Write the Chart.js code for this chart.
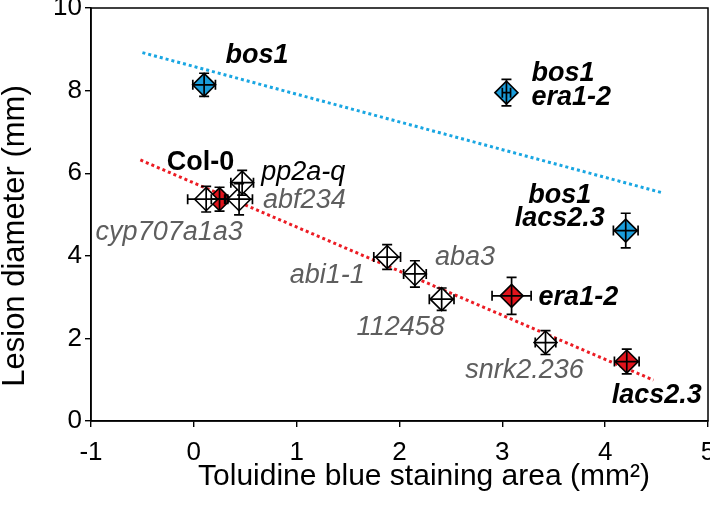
<!DOCTYPE html>
<html><head><meta charset="utf-8">
<script src="https://cdn.jsdelivr.net/npm/chart.js@4/dist/chart.umd.min.js"></script>
<style>html,body{margin:0;padding:0;background:#fff}#wrap{width:710px;height:507px;position:relative}</style>
</head><body><div id="wrap"><canvas id="c"></canvas></div>
<script>
// ---- data ----
const genotypes  = ['bos1','bos1\nera1-2','bos1\nlacs2.3','Col-0','cyp707a1a3','abf234','pp2a-q','abi1-1','aba3','112458','era1-2','snrk2.236','lacs2.3'];
const stainArea  = [0.10, 3.04, 4.20, 0.25, 0.12, 0.44, 0.47, 1.88, 2.15, 2.41, 3.09, 3.42, 4.21];
const stainErr   = [0.11, 0.04, 0.12, 0.08, 0.18, 0.13, 0.11, 0.13, 0.11, 0.12, 0.19, 0.10, 0.12];
const lesionDiam = [8.14, 7.95, 4.61, 5.37, 5.37, 5.37, 5.77, 3.97, 3.56, 2.95, 3.03, 1.90, 1.44];
const lesionErr  = [0.28, 0.32, 0.42, 0.29, 0.31, 0.38, 0.30, 0.30, 0.32, 0.27, 0.45, 0.29, 0.30];
const groups     = ['bos1','bos1','bos1','ref','open','open','open','open','open','open','ref','open','ref'];
const trendBlueX = [-0.50, 4.55];
const trendBlueY = [8.92, 5.53];
const trendRedX  = [-0.52, 4.47];
const trendRedY  = [6.32, 0.99];
const xTicks = [-1, 0, 1, 2, 3, 4, 5];
const yTicks = [0, 2, 4, 6, 8, 10];
const xTitle = 'Toluidine blue staining area (mm²)';
const yTitle = 'Lesion diameter (mm)';

// ---- styles ----
const FONT = '"Liberation Sans", Arial, sans-serif';
const groupFill = {bos1:'#1a9ddb', ref:'#e0141c', open:'#ffffff'};
const BI = 'italic bold 27px ' + FONT, I = 'italic 27px ' + FONT, B = 'bold 27px ' + FONT;
const GREY = '#5e5e5e';
const labelStyle = [
  {dx:53,  dy:-29, align:'center', font:BI, color:'#000', lh:24},
  {dx:25,  dy:-7,  align:'left',   font:BI, color:'#000', lh:24},
  {dx:-66, dy:-24, align:'center', font:BI, color:'#000', lh:23},
  {dx:-19, dy:-37, align:'center', font:B,  color:'#000', lh:24},
  {dx:-37, dy:33,  align:'center', font:I,  color:GREY,  lh:24},
  {dx:24,  dy:1,   align:'left',   font:I,  color:GREY,  lh:24},
  {dx:19,  dy:-10, align:'left',   font:I,  color:'#000', lh:24},
  {dx:-60, dy:18,  align:'center', font:I,  color:GREY,  lh:24},
  {dx:50,  dy:-16, align:'center', font:I,  color:GREY,  lh:24},
  {dx:-41, dy:28,  align:'center', font:I,  color:GREY,  lh:24},
  {dx:27,  dy:2,   align:'left',   font:BI, color:'#000', lh:24},
  {dx:-21, dy:28,  align:'center', font:I,  color:GREY,  lh:24},
  {dx:30,  dy:34,  align:'center', font:BI, color:'#000', lh:24}
];
const titleStyle = {xFont: '30px ' + FONT, xCenter: 424, xMid: 477, yFont: '31px ' + FONT, yCenterX: 15, yCenterY: 236};

const points = stainArea.map((v, i) => ({x: v, y: lesionDiam[i]}));

const extras = {
  id: 'extras',
  afterDatasetsDraw(chart) {
    const {ctx, scales: {x, y}, chartArea: a} = chart;
    ctx.save();
    // error bars
    ctx.strokeStyle = '#000';
    ctx.lineWidth = 1.7;
    const cap = 5;
    for (let i = 0; i < stainArea.length; i++) {
      const px = x.getPixelForValue(stainArea[i]);
      const py = y.getPixelForValue(lesionDiam[i]);
      const xl = x.getPixelForValue(stainArea[i] - stainErr[i]);
      const xr = x.getPixelForValue(stainArea[i] + stainErr[i]);
      const yt = y.getPixelForValue(lesionDiam[i] + lesionErr[i]);
      const yb = y.getPixelForValue(lesionDiam[i] - lesionErr[i]);
      ctx.beginPath();
      ctx.moveTo(xl, py); ctx.lineTo(xr, py);
      ctx.moveTo(xl, py - cap); ctx.lineTo(xl, py + cap);
      ctx.moveTo(xr, py - cap); ctx.lineTo(xr, py + cap);
      ctx.moveTo(px, yt); ctx.lineTo(px, yb);
      ctx.moveTo(px - cap, yt); ctx.lineTo(px + cap, yt);
      ctx.moveTo(px - cap, yb); ctx.lineTo(px + cap, yb);
      ctx.stroke();
    }
    // labels
    ctx.textBaseline = 'middle';
    for (let i = 0; i < genotypes.length; i++) {
      const s = labelStyle[i];
      const px = x.getPixelForValue(stainArea[i]) + s.dx;
      const py = y.getPixelForValue(lesionDiam[i]) + s.dy;
      const lines = genotypes[i].split('\n');
      ctx.font = s.font; ctx.fillStyle = s.color; ctx.textAlign = s.align;
      const y0 = py - (lines.length - 1) * s.lh / 2;
      lines.forEach((t, k) => ctx.fillText(t, px, y0 + k * s.lh));
    }
    // frame
    ctx.strokeStyle = '#000';
    ctx.lineWidth = 1.5;
    ctx.strokeRect(a.left, a.top, a.right - a.left, a.bottom - a.top);
    // axis titles
    ctx.fillStyle = '#000';
    ctx.textAlign = 'center';
    ctx.textBaseline = 'middle';
    ctx.font = titleStyle.xFont;
    ctx.fillText(xTitle, titleStyle.xCenter, titleStyle.xMid);
    ctx.translate(titleStyle.yCenterX, titleStyle.yCenterY);
    ctx.rotate(-Math.PI / 2);
    ctx.font = titleStyle.yFont;
    ctx.fillText(yTitle, 0, 0);
    ctx.restore();
  }
};

new Chart(document.getElementById('c'), {
  type: 'scatter',
  data: {
    datasets: [
      {
        type: 'scatter', label: 'genotypes', data: points, order: 1,
        pointStyle: 'rectRot', pointRadius: 11.5, pointHoverRadius: 11.5,
        backgroundColor: groups.map(g => groupFill[g]),
        borderColor: '#000', borderWidth: 1.6
      },
      {
        type: 'line', label: 'bos1 trend', order: 2,
        data: trendBlueX.map((v, i) => ({x: v, y: trendBlueY[i]})),
        borderColor: '#19a6e2', borderWidth: 3, borderDash: [3, 3], pointRadius: 0, fill: false
      },
      {
        type: 'line', label: 'BOS1 trend', order: 2,
        data: trendRedX.map((v, i) => ({x: v, y: trendRedY[i]})),
        borderColor: '#ec1c24', borderWidth: 3, borderDash: [3, 3], pointRadius: 0, fill: false
      }
    ]
  },
  options: {
    responsive: true, maintainAspectRatio: false, animation: false,
    layout: {autoPadding: false, padding: {top: 8, right: 2, left: 0, bottom: 0}},
    plugins: {legend: {display: false}, tooltip: {enabled: false}},
    scales: {
      x: {
        type: 'linear', min: -1, max: 5,
        afterFit: s => { s.height = 86; s.paddingLeft = 0; s.paddingRight = 0; },
        afterBuildTicks: s => { s.ticks = xTicks.map(v => ({value: v})); },
        grid: {drawOnChartArea: false, drawTicks: true, tickLength: 6, color: '#000', lineWidth: 1.4},
        border: {display: true, color: '#000', width: 1.5},
        ticks: {color: '#000', font: {family: FONT, size: 26}, padding: 10, maxRotation: 0},
        title: {display: false}
      },
      y: {
        type: 'linear', min: 0, max: 10,
        afterFit: s => { s.width = 91; s.paddingTop = 0; s.paddingBottom = 0; },
        afterBuildTicks: s => { s.ticks = yTicks.map(v => ({value: v})); },
        grid: {drawOnChartArea: false, drawTicks: true, tickLength: 6, color: '#000', lineWidth: 1.4},
        border: {display: true, color: '#000', width: 1.5},
        ticks: {color: '#000', font: {family: FONT, size: 26}, padding: 3},
        title: {display: false}
      }
    }
  },
  plugins: [extras]
});
</script>
</body></html>
